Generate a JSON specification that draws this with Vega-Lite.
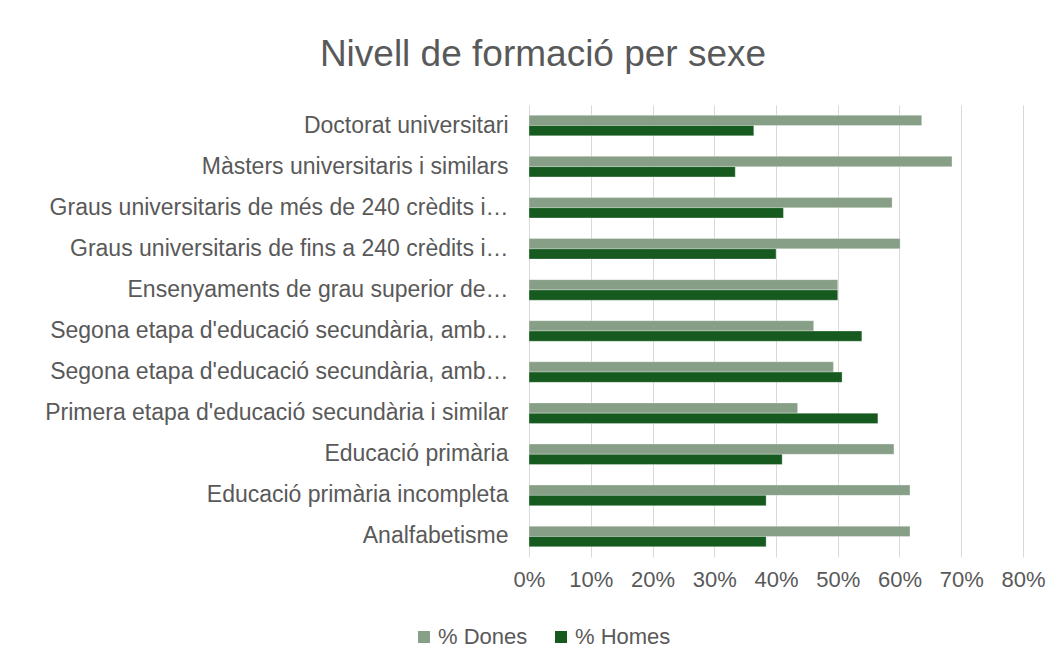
{
  "$schema": "https://vega.github.io/schema/vega-lite/v6.json",
  "width": 494,
  "height": 452,
  "autosize": "none",
  "padding": {"left": 529, "top": 105, "right": 40, "bottom": 110},
  "background": "white",
  "title": {
    "text": "Nivell de formació per sexe",
    "anchor": "middle",
    "frame": "group",
    "dx": -233,
    "offset": 31,
    "font": "Liberation Sans",
    "fontSize": 37,
    "fontWeight": "normal",
    "color": "#595959"
  },
  "data": {
    "values": [
      {"nivell": "Doctorat universitari", "sexe": "% Dones", "pct": 0.636},
      {"nivell": "Doctorat universitari", "sexe": "% Homes", "pct": 0.364},
      {"nivell": "Màsters universitaris i similars", "sexe": "% Dones", "pct": 0.685},
      {"nivell": "Màsters universitaris i similars", "sexe": "% Homes", "pct": 0.334},
      {"nivell": "Graus universitaris de més de 240 crèdits i equivalents", "sexe": "% Dones", "pct": 0.588},
      {"nivell": "Graus universitaris de més de 240 crèdits i equivalents", "sexe": "% Homes", "pct": 0.412},
      {"nivell": "Graus universitaris de fins a 240 crèdits i equivalents", "sexe": "% Dones", "pct": 0.601},
      {"nivell": "Graus universitaris de fins a 240 crèdits i equivalents", "sexe": "% Homes", "pct": 0.400},
      {"nivell": "Ensenyaments de grau superior de FP i equivalents", "sexe": "% Dones", "pct": 0.500},
      {"nivell": "Ensenyaments de grau superior de FP i equivalents", "sexe": "% Homes", "pct": 0.500},
      {"nivell": "Segona etapa d'educació secundària, amb orientació professional", "sexe": "% Dones", "pct": 0.461},
      {"nivell": "Segona etapa d'educació secundària, amb orientació professional", "sexe": "% Homes", "pct": 0.539},
      {"nivell": "Segona etapa d'educació secundària, amb orientació general", "sexe": "% Dones", "pct": 0.493},
      {"nivell": "Segona etapa d'educació secundària, amb orientació general", "sexe": "% Homes", "pct": 0.507},
      {"nivell": "Primera etapa d'educació secundària i similar", "sexe": "% Dones", "pct": 0.435},
      {"nivell": "Primera etapa d'educació secundària i similar", "sexe": "% Homes", "pct": 0.565},
      {"nivell": "Educació primària", "sexe": "% Dones", "pct": 0.591},
      {"nivell": "Educació primària", "sexe": "% Homes", "pct": 0.410},
      {"nivell": "Educació primària incompleta", "sexe": "% Dones", "pct": 0.617},
      {"nivell": "Educació primària incompleta", "sexe": "% Homes", "pct": 0.384},
      {"nivell": "Analfabetisme", "sexe": "% Dones", "pct": 0.617},
      {"nivell": "Analfabetisme", "sexe": "% Homes", "pct": 0.384}
    ]
  },
  "mark": {"type": "bar", "stroke": "white", "strokeWidth": 0.5, "strokeOpacity": 0.6},
  "encoding": {
    "y": {
      "field": "nivell",
      "type": "nominal",
      "sort": [
        "Doctorat universitari",
        "Màsters universitaris i similars",
        "Graus universitaris de més de 240 crèdits i equivalents",
        "Graus universitaris de fins a 240 crèdits i equivalents",
        "Ensenyaments de grau superior de FP i equivalents",
        "Segona etapa d'educació secundària, amb orientació professional",
        "Segona etapa d'educació secundària, amb orientació general",
        "Primera etapa d'educació secundària i similar",
        "Educació primària",
        "Educació primària incompleta",
        "Analfabetisme"
      ],
      "scale": {"paddingInner": 0.5, "paddingOuter": 0.25},
      "axis": {
        "title": null,
        "domain": false,
        "ticks": false,
        "grid": false,
        "labelPadding": 21,
        "labelLimit": 700,
        "labelFont": "Liberation Sans",
        "labelFontSize": 23,
        "labelColor": "#595959",
        "labelExpr": "indexof(datum.label, \"Graus universitaris de més\") == 0 ? \"Graus universitaris de més de 240 crèdits i…\" : indexof(datum.label, \"Graus universitaris de fins\") == 0 ? \"Graus universitaris de fins a 240 crèdits i…\" : indexof(datum.label, \"Ensenyaments\") == 0 ? \"Ensenyaments de grau superior de…\" : indexof(datum.label, \"Segona etapa\") == 0 ? \"Segona etapa d'educació secundària, amb…\" : datum.label"
      }
    },
    "yOffset": {
      "field": "sexe",
      "type": "nominal",
      "sort": ["% Dones", "% Homes"]
    },
    "x": {
      "field": "pct",
      "type": "quantitative",
      "scale": {"domain": [0, 0.8], "nice": false},
      "axis": {
        "title": null,
        "format": ".0%",
        "values": [0, 0.1, 0.2, 0.3, 0.4, 0.5, 0.6, 0.7, 0.8],
        "domain": false,
        "ticks": false,
        "grid": true,
        "gridColor": "#D9D9D9",
        "gridWidth": 1,
        "labelPadding": 12,
        "labelOverlap": false,
        "labelFlush": false,
        "labelBound": false,
        "labelFont": "Liberation Sans",
        "labelFontSize": 22,
        "labelColor": "#595959"
      }
    },
    "color": {
      "field": "sexe",
      "type": "nominal",
      "scale": {"domain": ["% Dones", "% Homes"], "range": ["#879E87", "#165A20"]},
      "legend": {
        "title": null,
        "orient": "none",
        "direction": "horizontal",
        "legendX": -116,
        "legendY": 521,
        "symbolType": "square",
        "symbolSize": 144,
        "symbolStrokeWidth": 0,
        "labelFont": "Liberation Sans",
        "labelFontSize": 22,
        "labelColor": "#595959",
        "labelOffset": 3,
        "columnPadding": 22,
        "padding": 0
      }
    }
  },
  "config": {
    "view": {"stroke": null}
  }
}
